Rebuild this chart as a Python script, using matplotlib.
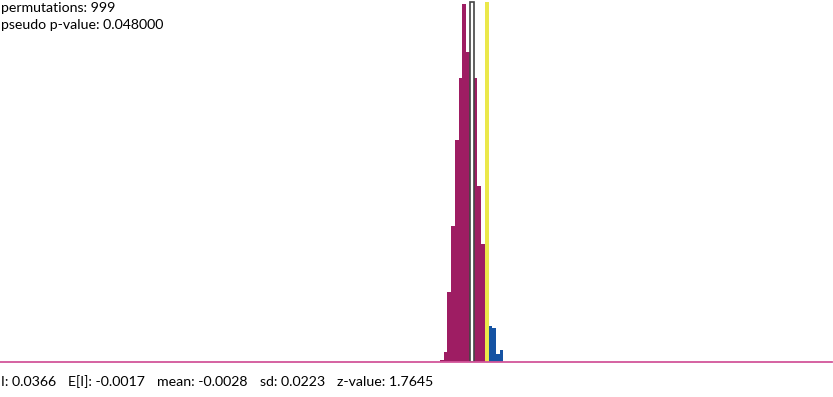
import matplotlib
matplotlib.use("Agg")
import matplotlib.pyplot as plt
import numpy as np

# permutation results (Moran's I reference distribution)
n_perm = 999
p_value = 0.048
observed_I = 0.0366
expected_I = -0.0017
mean_I = -0.0028
sd_I = 0.0223
z_value = 1.7645

# histogram of permuted I values
bin_lo, bin_hi = -0.087, 0.080
counts = [1, 5, 35, 68, 111, 142, 179, 155, 160, 142, 88, 59, 40, 18, 17, 4, 6]

edges = np.linspace(bin_lo, bin_hi, len(counts) + 1)
centers = (edges[:-1] + edges[1:]) / 2
width = edges[1] - edges[0]

plt.rcParams['font.family'] = ['Lato', 'DejaVu Sans']

fig = plt.figure(figsize=(8.33, 3.97), dpi=100, facecolor='w')
ax = fig.add_axes([0, 35 / 397, 832 / 833, 362 / 397])

cols = ['#1553a3' if c >= observed_I else '#9e1d63' for c in centers]
ax.bar(centers, counts, width=width, color=cols, linewidth=0)

# mean marker and observed value
ax.bar([mean_I], [180], width=width, color='white', edgecolor='#444444', linewidth=1.2)
ax.bar([observed_I], [180], width=width, color='#ebe84a', linewidth=0)

ax.axhline(0, color='#d2559a', linewidth=1.3, clip_on=False)

ax.set_xlim(-1.2478, 0.9474)
ax.set_ylim(0, 181)
ax.axis('off')

fs = 10.2
fig.text(0.001, 1 - 12 / 397, f"permutations: {n_perm}", fontsize=fs, va='baseline')
fig.text(0.001, 1 - 29 / 397, f"pseudo p-value: {p_value:.6f}", fontsize=fs, va='baseline')

stats = [f"I: {observed_I:.4f}", f"E[I]: {expected_I:.4f}", f"mean: {mean_I:.4f}",
         f"sd: {sd_I:.4f}", f"z-value: {z_value:.4f}"]

# lay the stats out left to right with an even gap
renderer = fig.canvas.get_renderer()
x = 1
for s in stats:
    t = fig.text(x / 833, 1 - 386 / 397, s, fontsize=fs, va='baseline')
    x += t.get_window_extent(renderer).width + 12

fig.savefig("out.png", dpi=100)
